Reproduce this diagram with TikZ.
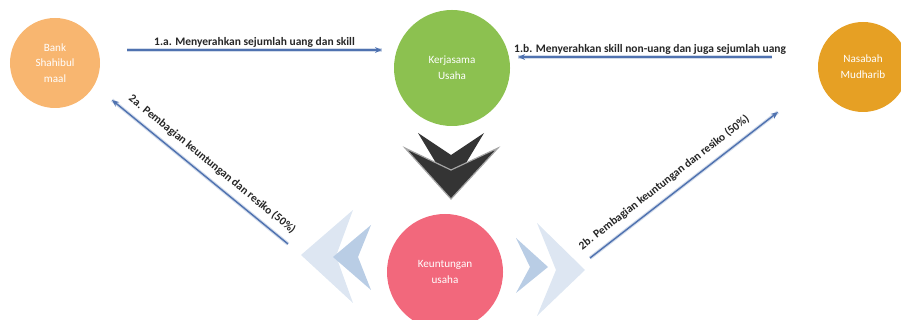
\documentclass[tikz,border=0pt]{standalone}
\usepackage{fontspec}
\setmainfont{Carlito}
\usetikzlibrary{arrows.meta}
\definecolor{lorange}{RGB}{248,182,112}
\definecolor{dorange}{RGB}{230,160,36}
\definecolor{lgreen}{RGB}{140,193,80}
\definecolor{lpink}{RGB}{242,104,124}
\definecolor{arrowblue}{RGB}{79,114,176}
\definecolor{chevlight}{RGB}{221,230,242}
\definecolor{chevdark}{RGB}{185,205,229}
\definecolor{chevblack}{RGB}{52,52,52}

\begin{document}
\begin{tikzpicture}[x=0.03cm, y=-0.03cm,
    party/.style={circle, inner sep=0pt, text=white, align=center,
        font=\fontsize{9.5}{13.5}\selectfont},
    flow/.style={-{Stealth[length=6pt,width=5pt]}, line width=1.2pt, draw=arrowblue,
        preaction={draw=arrowblue!25, line width=3pt, -}},
    flowtext/.style={font=\bfseries\fontsize{9.8}{12}\selectfont, text=black!85, inner sep=2pt}]
    \useasboundingbox (0,0) rectangle (901,320);

    \node[party, fill=lorange, minimum size=2.7cm] (bank) at (55,63) {Bank\\Shahibul\\maal};
    \node[party, fill=lgreen, minimum size=3.48cm] (kerja) at (452,68) {Kerjasama\\Usaha};
    \node[party, fill=dorange, minimum size=2.7cm] (nasabah) at (863,67) {Nasabah\\Mudharib};
    \node[party, fill=lpink, minimum size=3.48cm] (untung) at (445,272) {Keuntungan\\usaha};

    \fill[chevblack] (418,133) -- (451,155) -- (484,133) -- (451,188) -- cycle;
    \draw[gray!70, line width=1pt, fill=chevblack] (405,148) -- (451,170) -- (498,148) -- (451,199) -- cycle;

    \fill[chevlight] (301,255) -- (353,210) -- (336,256) -- (353,303) -- cycle;
    \fill[chevdark] (333,257) -- (371,225) -- (358,257) -- (371,290) -- cycle;
    \fill[chevlight] (585,270) -- (537,223) -- (556,270) -- (537,316) -- cycle;
    \fill[chevdark] (548,267) -- (516,238) -- (530,267) -- (516,293) -- cycle;

    \coordinate (a1s) at (127,50);
    \coordinate (a1e) at (382,50);
    \coordinate (b1s) at (772,57);
    \coordinate (b1e) at (518,57);
    \coordinate (a2s) at (288,244);
    \coordinate (a2e) at (112,100);
    \coordinate (b2s) at (590,258);
    \coordinate (b2e) at (778,112);

    \draw[flow] (a1s) -- node[flowtext, above] {1.a. Menyerahkan sejumlah uang dan skill} (a1e);
    \draw[flow] (b1s) -- node[flowtext, above, pos=0.48] {1.b. Menyerahkan skill non-uang dan juga sejumlah uang} (b1e);
    \draw[flow] (a2s) -- (a2e);
    \path (a2e) -- node[flowtext, sloped, above=5pt, pos=0.52] {2a. Pembagian keuntungan dan resiko (50\%)} (a2s);
    \draw[flow] (b2s) -- node[flowtext, sloped, above=5pt, pos=0.44] {2b. Pembagian keuntungan dan resiko (50\%)} (b2e);
\end{tikzpicture}
\end{document}
